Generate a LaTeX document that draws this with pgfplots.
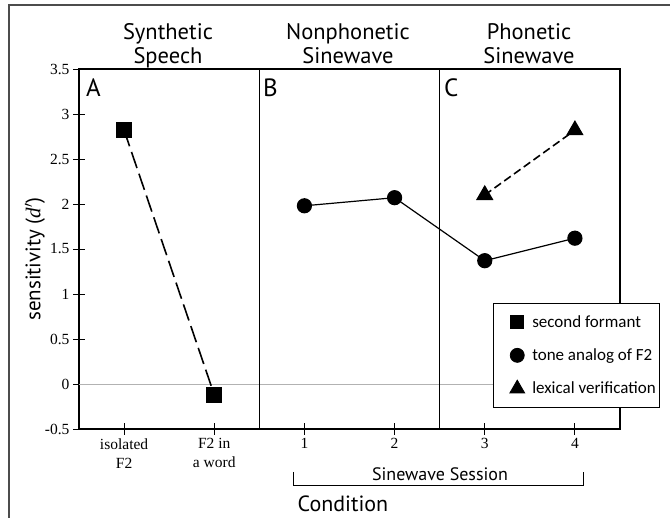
\documentclass[border=0pt]{standalone}
\usepackage{fontspec}
\setmainfont{Liberation Serif}
\newfontfamily\sansf{PT Sans}
\newfontfamily\legf{Carlito}
\usepackage{pgfplots}
\pgfplotsset{compat=1.18}

\begin{document}
\begin{tikzpicture}[x=1pt,y=1pt]
\useasboundingbox (0,0) rectangle (670,518);
% outer frame (cut at right and bottom as in the scan)
\draw[line width=1.3pt, black!70] (9,-5) -- (9,513) -- (680,513);

\begin{axis}[
  at={(79pt,89pt)}, anchor=south west,
  scale only axis, width=541pt, height=360pt,
  xmin=-0.5, xmax=5.5, ymin=-0.5, ymax=3.5,
  xtick={0,1,2,3,4,5},
  xticklabels={isolated\\F2, F2 in\\a word, 1, 2, 3, 4},
  ytick={-0.5,0,0.5,1,1.5,2,2.5,3,3.5},
  yticklabels={-0.5,0,0.5,1,1.5,2,2.5,3,3.5},
  xtick pos=bottom, ytick pos=left,
  tick align=center, major tick length=12pt,
  tick style={line width=0.9pt, black},
  axis line style={line width=1.2pt},
  tick label style={font=\fontsize{15.5}{19}\selectfont},
  xticklabel style={align=center},
  legend image code/.code={%
    \path[draw=none, fill=none] (-22pt,0pt) (13pt,0pt);
    \draw[#1] plot coordinates {(0pt,0pt)};},
  legend style={at={(0.765,0.35)}, anchor=north west, draw=black,
    line width=0.8pt, fill=white, inner xsep=2pt, inner ysep=10pt,
    font=\legf\fontsize{17}{20}\selectfont, row sep=16pt,
    legend cell align=left,
    /tikz/every even column/.append style={column sep=0pt}},
]
% reference lines
\draw[gray!60, line width=0.7pt] (axis cs:-0.5,0) -- (axis cs:5.5,0);
\draw[line width=0.6pt] (axis cs:1.5,-0.5) -- (axis cs:1.5,3.5);
\draw[line width=0.6pt] (axis cs:3.5,-0.5) -- (axis cs:3.5,3.5);

% second formant (synthetic speech)
\addplot[forget plot, black, line width=1.6pt, dash pattern=on 17pt off 6pt,
  mark=square*, mark size=7pt, mark options={solid}]
  coordinates {(0,2.82) (1,-0.12)};
% tone analog of F2
\addplot[forget plot, black, line width=1.2pt, mark=*, mark size=7pt]
  coordinates {(2,1.98) (3,2.07) (4,1.37) (5,1.62)};
% lexical verification
\addplot[forget plot, black, line width=1.6pt, dash pattern=on 8pt off 4pt,
  mark=triangle*, mark size=8.5pt, mark options={solid}]
  coordinates {(4,2.10) (5,2.82)};

\addlegendimage{only marks, black, mark=square*, mark size=6.5pt}
\addlegendentry{second formant}
\addlegendimage{only marks, black, mark=*, mark size=7pt}
\addlegendentry{tone analog of F2}
\addlegendimage{only marks, black, mark=triangle*, mark size=8.5pt}
\addlegendentry{lexical verification}
\end{axis}

% panel titles
\begin{scope}[every node/.style={anchor=base, font=\sansf\fontsize{22.5}{24}\selectfont}]
\node at (168,478) {Synthetic};
\node at (168,454) {Speech};
\node at (348,478) {Nonphonetic};
\node at (348,454) {Sinewave};
\node at (529,478) {Phonetic};
\node at (529,454) {Sinewave};
\end{scope}
% panel letters
\begin{scope}[every node/.style={anchor=base west, inner sep=0pt, font=\sansf\fontsize{25}{26}\selectfont}]
\node at (86,421) {A};
\node at (263,421) {B};
\node at (444,421) {C};
\end{scope}

% session bracket
\draw[line width=0.8pt] (293,46) -- (293,33) -- (583,33) -- (583,46);
\node[anchor=base, font=\sansf\fontsize{18}{20}\selectfont] at (440,37) {Sinewave Session};
\node[anchor=base, font=\sansf\fontsize{22}{24}\selectfont] at (343,6) {Condition};

% y label
\node[rotate=90, font=\sansf\fontsize{21}{23}\selectfont] at (35,259)
  {sensitivity ({\rmfamily\itshape d}$'$)};
\end{tikzpicture}
\end{document}
